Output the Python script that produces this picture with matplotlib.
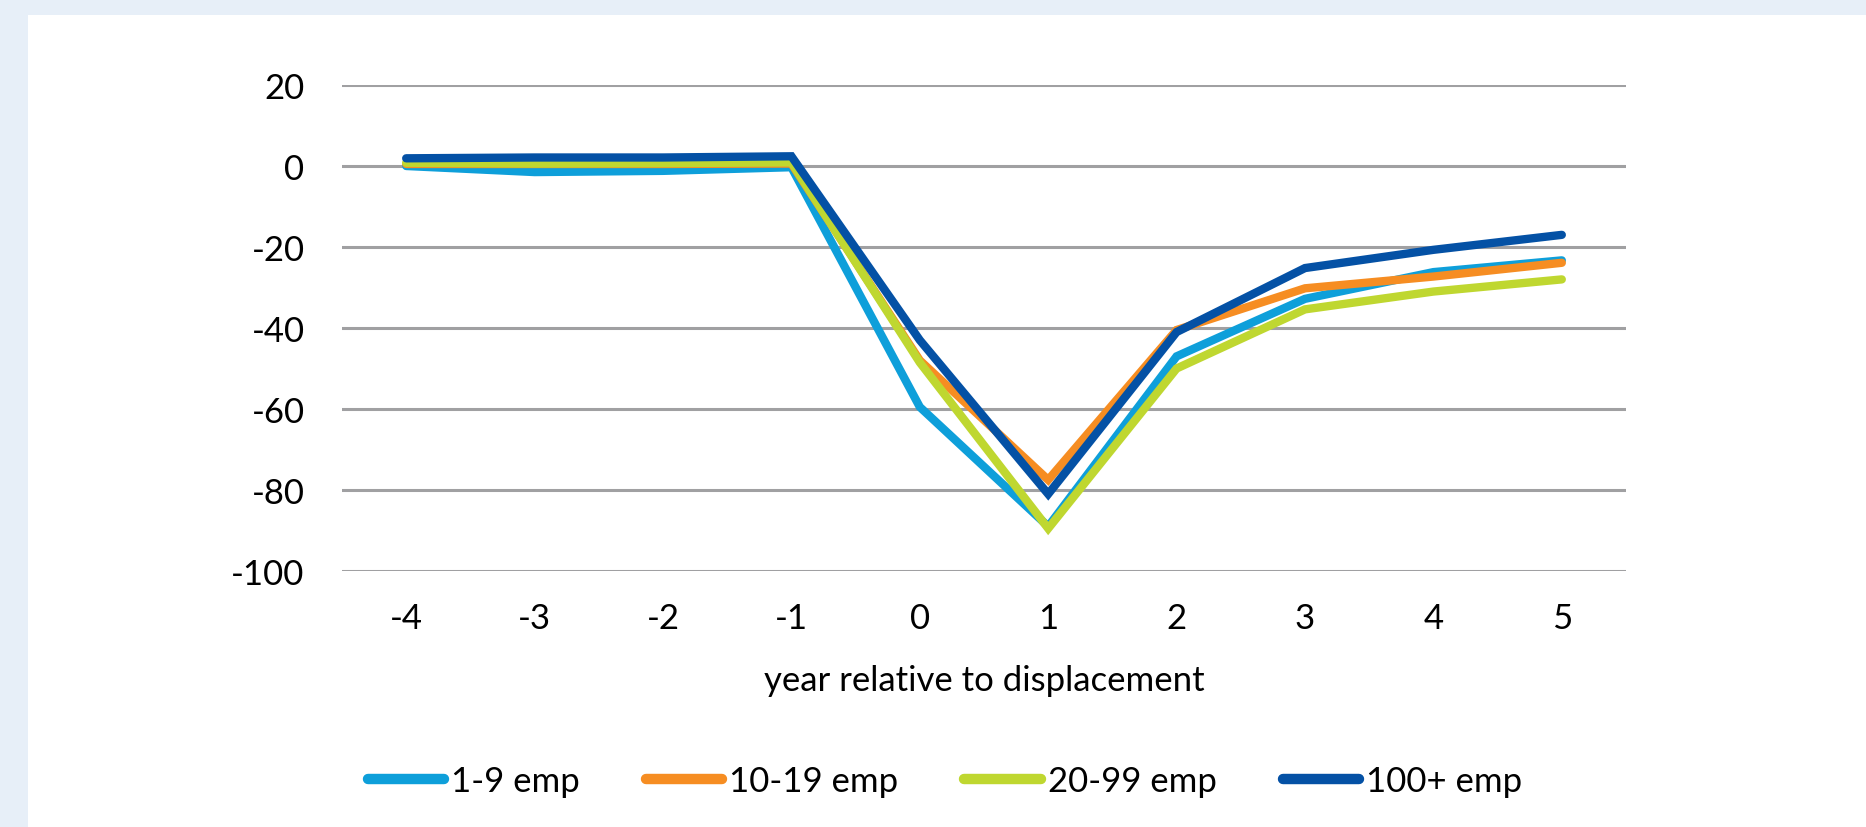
import matplotlib.pyplot as plt
from matplotlib.patches import Rectangle

plt.rcParams['font.family'] = ['Lato', 'DejaVu Sans']
plt.rcParams['axes.unicode_minus'] = False

years = [-4, -3, -2, -1, 0, 1, 2, 3, 4, 5]
emp_1_9 = [0.0, -1.5, -1.2, -0.3, -59.5, -89.0, -47.0, -32.8, -26.2, -23.3]
emp_10_19 = [0.5, 0.5, 0.5, 0.6, -48.0, -77.5, -40.5, -30.2, -27.3, -23.9]
emp_20_99 = [0.8, 0.6, 0.7, 0.9, -48.5, -89.5, -50.0, -35.4, -31.0, -28.0]
emp_100 = [1.9, 2.1, 2.1, 2.4, -43.0, -81.0, -41.0, -25.2, -20.7, -17.0]

series = [
    ('1-9 emp', emp_1_9, '#0E9FDA'),
    ('10-19 emp', emp_10_19, '#F68D22'),
    ('20-99 emp', emp_20_99, '#BFD730'),
    ('100+ emp', emp_100, '#0451A5'),
]

fig = plt.figure(figsize=(18.66, 8.28), dpi=100)
fig.patch.set_facecolor('#E7EFF8')
fig.patches.append(Rectangle((28 / 1866, 0), 1 - 28 / 1866, 1 - 16 / 828,
                             transform=fig.transFigure, facecolor='white',
                             edgecolor='none', zorder=-10))

ax = fig.add_axes([342 / 1866, 1 - 572 / 828, 1284 / 1866, 486 / 828])
ax.set_facecolor('none')
ax.set_zorder(1)

for label, vals, color in series:
    ax.plot(years, vals, color=color, lw=6, label=label,
            solid_capstyle='round', solid_joinstyle='miter')

ax.set_xlim(-4.5, 5.5)
ax.set_ylim(-100, 20)
ax.set_xticks(years)
ax.set_yticks(range(-100, 21, 20))
ax.tick_params(axis='both', length=0, labelsize=25, colors='black')
ax.tick_params(axis='x', pad=22)
ax.tick_params(axis='y', pad=27)
ax.grid(axis='y', color='#A0A0A2', lw=2.2)
ax.set_axisbelow(True)
for s in ax.spines.values():
    s.set_visible(False)

ax.set_xlabel('year relative to displacement', fontsize=25, labelpad=22)

leg = fig.legend(loc='center', bbox_to_anchor=(945 / 1866, 1 - 782 / 828),
                 ncol=4, frameon=False, fontsize=25, handlelength=2.2,
                 handletextpad=0.2, columnspacing=1.9)
for h in leg.get_lines():
    h.set_linewidth(7.5)

fig.savefig('out.png', dpi=100, facecolor=fig.get_facecolor())
